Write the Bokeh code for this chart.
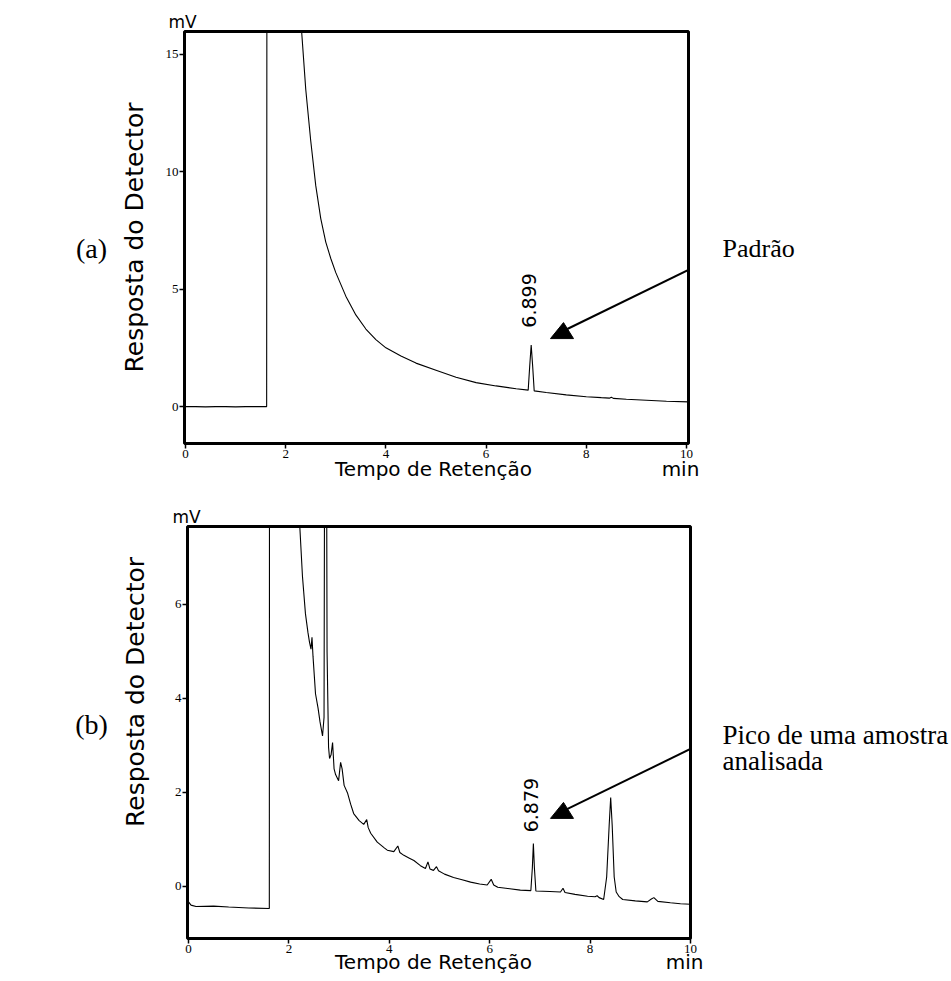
from bokeh.plotting import figure
from bokeh.layouts import column, row
from bokeh.models import (Range1d, FixedTicker, Label, Arrow, PolyAnnotation,
                          LinearAxis, Title)
from bokeh.embed import file_html
from bokeh.resources import INLINE

# ---------------- data ----------------
x_ticks = [0, 2, 4, 6, 8, 10]
ya_ticks = [0, 5, 10, 15]
yb_ticks = [0, 2, 4, 6]

# Panel (a): standard
time_a = [0.00, 0.20, 0.40, 0.60, 0.80, 1.00, 1.20, 1.40, 1.62, 1.63,
          2.00, 2.20, 2.30, 2.40, 2.50, 2.60, 2.70, 2.80, 2.90, 3.00,
          3.20, 3.40, 3.60, 3.80, 4.00, 4.30, 4.60, 5.00, 5.40, 5.80,
          6.20, 6.60, 6.84, 6.87, 6.90, 6.93, 6.96, 7.20, 7.60, 8.00,
          8.30, 8.46, 8.50, 8.54, 8.80, 9.20, 9.60, 10.04]
resp_a = [0.00, 0.00, -0.01, 0.00, 0.00, -0.01, 0.00, 0.00, 0.00, 40.0,
          40.0, 24.0, 16.5, 13.5, 11.3, 9.4, 8.0, 7.0, 6.3, 5.7,
          4.7, 3.9, 3.3, 2.85, 2.5, 2.15, 1.85, 1.55, 1.25, 1.02,
          0.88, 0.76, 0.70, 1.70, 2.62, 1.70, 0.67, 0.60, 0.50, 0.42,
          0.38, 0.36, 0.40, 0.35, 0.31, 0.27, 0.23, 0.20]

# Panel (b): analysed sample
time_b = [0.00, 0.05, 0.15, 0.50, 0.80, 1.20, 1.61, 1.62, 2.00, 2.15,
          2.20, 2.27, 2.33, 2.38, 2.41, 2.44, 2.46, 2.48, 2.53, 2.58,
          2.62, 2.67, 2.70, 2.72, 2.74, 2.76, 2.79, 2.81, 2.84, 2.87,
          2.90, 2.93, 2.99, 3.03, 3.06, 3.10, 3.17, 3.23, 3.29, 3.40,
          3.49, 3.55, 3.58, 3.63, 3.76, 3.90, 3.96, 4.09, 4.17, 4.21,
          4.29, 4.40, 4.49, 4.62, 4.72, 4.77, 4.81, 4.88, 4.94, 4.98,
          5.10, 5.28, 5.45, 5.62, 5.80, 5.95, 6.03, 6.08, 6.16, 6.40,
          6.61, 6.82, 6.85, 6.87, 6.89, 6.92, 7.20, 7.41, 7.46, 7.50,
          7.70, 7.95, 8.10, 8.14, 8.18, 8.27, 8.33, 8.38, 8.41, 8.44,
          8.48, 8.52, 8.58, 8.65, 8.90, 9.14, 9.22, 9.27, 9.35, 9.60,
          9.80, 10.00]
resp_b = [-0.33, -0.40, -0.43, -0.42, -0.44, -0.46, -0.47, 30.0, 30.0, 10.0,
          8.0, 6.6, 5.8, 5.4, 5.2, 5.05, 5.3, 4.9, 4.1, 3.8,
          3.5, 3.2, 3.6, 14.0, 14.0, 5.0, 2.96, 2.72, 2.8, 3.06,
          2.5, 2.38, 2.25, 2.64, 2.5, 2.15, 1.98, 1.75, 1.55, 1.40,
          1.32, 1.42, 1.25, 1.13, 0.94, 0.82, 0.77, 0.74, 0.86, 0.72,
          0.66, 0.60, 0.55, 0.44, 0.38, 0.52, 0.37, 0.34, 0.42, 0.33,
          0.26, 0.19, 0.14, 0.09, 0.05, 0.03, 0.15, 0.03, -0.02, -0.05,
          -0.08, -0.09, 0.40, 0.91, 0.40, -0.10, -0.11, -0.12, -0.04, -0.13,
          -0.17, -0.21, -0.22, -0.20, -0.24, -0.28, 0.20, 1.30, 1.89, 1.30,
          0.20, -0.12, -0.22, -0.28, -0.31, -0.33, -0.27, -0.24, -0.32, -0.35,
          -0.37, -0.38]

peak_a = "6.899"
peak_b = "6.879"
x_title = "Tempo de Retenção"
x_unit = "min"
y_title = "Resposta do Detector"
y_unit = "mV"

SANS = "DejaVu Sans"
SERIF = "Liberation Serif"
TICKFONT = "Liberation Sans Narrow"

RIGHT_W = 246
HA = 490
HB = 488


def text_fig(w, h):
    f = figure(width=w, height=h, x_range=Range1d(0, w), y_range=Range1d(h, 0),
               output_backend="svg", toolbar_location=None, tools="",
               x_axis_type=None, y_axis_type=None, min_border=0)
    f.outline_line_color = None
    f.background_fill_color = "white"
    f.border_fill_color = "white"
    return f


def make_panel(time, resp, xr, yr, yticks, width, height, bl, bt, bb, fw,
               ylabel, ylab_standoff, title_pos, unit_off, unit_standoff):
    p = figure(width=width, height=height,
               x_range=Range1d(*xr), y_range=Range1d(*yr),
               output_backend="svg", toolbar_location=None, tools="",
               min_border_left=bl, min_border_top=bt, min_border_bottom=bb,
               min_border_right=width - bl - fw)
    p.line(time, resp, line_color="black", line_width=1.1)
    p.grid.visible = False
    p.background_fill_color = "white"
    p.border_fill_color = "white"
    p.outline_line_color = "black"
    p.outline_line_width = 3
    p.outline_line_alpha = 1.0
    p.xaxis.ticker = FixedTicker(ticks=x_ticks)
    p.yaxis.ticker = FixedTicker(ticks=yticks)
    for ax in (p.xaxis[0], p.yaxis[0]):
        ax.axis_line_color = None
        ax.major_tick_in = 0
        ax.major_tick_out = 5
        ax.major_tick_line_width = 1.5
        ax.major_tick_line_color = "black"
        ax.minor_tick_in = 0
        ax.minor_tick_out = 0
        ax.major_label_text_font = TICKFONT
        ax.major_label_text_font_size = "13px"
        ax.major_label_text_color = "black"
        ax.major_label_standoff = 1
    if ylabel:
        p.yaxis.axis_label = ylabel
        p.yaxis.axis_label_text_font = SANS
        p.yaxis.axis_label_text_font_size = "25px"
        p.yaxis.axis_label_text_font_style = "normal"
        p.yaxis.axis_label_text_color = "black"
        p.yaxis.axis_label_standoff = ylab_standoff
    # second row under the tick numbers: axis title and unit
    ax2 = LinearAxis(ticker=FixedTicker(ticks=title_pos),
                     major_label_overrides={title_pos[0]: x_title, title_pos[1]: x_unit},
                     axis_line_color=None, major_tick_out=0, major_tick_in=0,
                     minor_tick_out=0, minor_tick_in=0,
                     major_label_text_font=SANS, major_label_text_font_size="20px",
                     major_label_text_color="black", major_label_standoff=unit_standoff)
    p.add_layout(ax2, "below")
    p.add_layout(Title(text=y_unit, align="left", offset=unit_off, standoff=0,
                       text_font=SANS, text_font_size="17px", text_font_style="normal",
                       text_color="black"), "above")
    return p


# ---------------- panel (a) ----------------
pa = make_panel(time_a, resp_a, (-0.02, 10.04), (-1.57, 15.96), ya_ticks,
                593, HA, 74, 31, HA - 443, 504, y_title, 14, [4.95, 9.88], -16, -4)
pa.add_layout(Label(x=6.866, y=3.36, text=peak_a, text_font=SANS, text_font_size="19px",
                    text_color="black", angle=1.5708, text_align="left",
                    text_baseline="middle"))
pa.add_layout(Arrow(end=None, x_start=10.34, y_start=6.13, x_end=7.60, y_end=3.28,
                    line_color="black", line_width=2))
pa.add_layout(PolyAnnotation(xs=[7.285, 7.745, 7.545], ys=[2.894, 2.894, 3.574],
                             fill_color="black", fill_alpha=1.0, line_color="black",
                             line_alpha=1.0, line_width=1))

la = text_fig(110, HA)
la.add_layout(Label(x=91, y=258, text="(a)", text_font=SERIF, text_font_size="28px",
                    text_color="black", text_align="center", text_baseline="middle"))
ra = text_fig(RIGHT_W, HA)
ra.add_layout(Label(x=19, y=258, text="Padrão", text_font=SERIF, text_font_size="26px",
                    text_color="black", text_align="left", text_baseline="alphabetic"))

# ---------------- panel (b) ----------------
pb = make_panel(time_b, resp_b, (-0.02, 10.0), (-1.11, 7.66), yb_ticks,
                553, HB, 37, 36, 40, 503, None, 0, [4.88, 9.90], -15, -6)
pb.add_layout(Label(x=6.813, y=1.15, text=peak_b, text_font=SANS, text_font_size="19px",
                    text_color="black", angle=1.5708, text_align="left",
                    text_baseline="middle"))
pb.add_layout(Arrow(end=None, x_start=10.26, y_start=3.06, x_end=7.53, y_end=1.64,
                    line_color="black", line_width=2))
pb.add_layout(PolyAnnotation(xs=[7.211, 7.669, 7.470], ys=[1.447, 1.447, 1.787],
                             fill_color="black", fill_alpha=1.0, line_color="black",
                             line_alpha=1.0, line_width=1))

# the y title of panel (b) sits higher than the frame centre in the reference
lb = text_fig(150, HB)
lb.add_layout(Label(x=91, y=235, text="(b)", text_font=SERIF, text_font_size="28px",
                    text_color="black", text_align="center", text_baseline="middle"))
lb.add_layout(Label(x=135, y=196, text=y_title, text_font=SANS, text_font_size="25px",
                    text_color="black", angle=1.5708, text_align="center",
                    text_baseline="middle"))
rb = text_fig(RIGHT_W, HB)
rb.add_layout(Label(x=19, y=247, text="Pico de uma amostra", text_font=SERIF,
                    text_font_size="27px", text_color="black", text_align="left",
                    text_baseline="alphabetic"))
rb.add_layout(Label(x=19, y=278, text="analisada", text_font=SERIF,
                    text_font_size="27px", text_color="black", text_align="left",
                    text_baseline="alphabetic"))

layout = column(row(la, pa, ra, spacing=0), row(lb, pb, rb, spacing=0), spacing=0)
open("out.html", "w").write(file_html(layout, INLINE))
